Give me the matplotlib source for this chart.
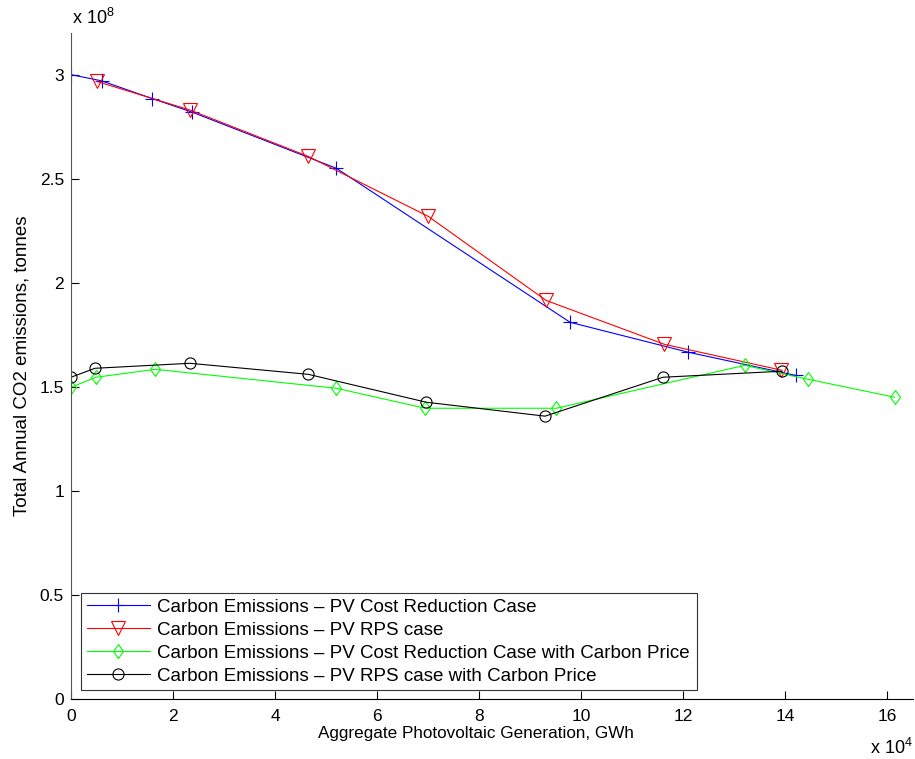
import numpy as np
import matplotlib
matplotlib.use('Agg')
import matplotlib.pyplot as plt

plt.rcParams['font.family'] = ['Liberation Sans', 'DejaVu Sans']
plt.rcParams['mathtext.fontset'] = 'custom'
plt.rcParams['mathtext.rm'] = 'Liberation Sans'

# PV generation (x 1e4 GWh) and CO2 emissions (x 1e8 tonnes)
cost_x = [0.0, 0.6, 1.59, 2.37, 5.2, 9.78, 12.1, 14.2]
cost_y = [3.0, 2.97, 2.885, 2.82, 2.55, 1.81, 1.666, 1.555]

rps_x = [0.51, 2.33, 4.65, 7.0, 9.31, 11.63, 13.92]
rps_y = [2.967, 2.83, 2.607, 2.319, 1.915, 1.704, 1.58]

cost_cp_x = [0.0, 0.49, 1.65, 5.2, 6.94, 9.51, 13.2, 14.45, 16.14]
cost_cp_y = [1.498, 1.546, 1.584, 1.493, 1.397, 1.397, 1.603, 1.536, 1.45]

rps_cp_x = [0.0, 0.47, 2.33, 4.65, 6.96, 9.29, 11.6, 13.94]
rps_cp_y = [1.546, 1.589, 1.613, 1.56, 1.426, 1.359, 1.546, 1.575]

labels = ['Carbon Emissions \u2013 PV Cost Reduction Case',
          'Carbon Emissions \u2013 PV RPS case',
          'Carbon Emissions \u2013 PV Cost Reduction Case with Carbon Price',
          'Carbon Emissions \u2013 PV RPS case with Carbon Price']

# matlab-style diamond, a bit narrower than it is tall
diamond = [(0, -1), (0.72, 0), (0, 1), (-0.72, 0), (0, -1)]

fig = plt.figure(figsize=(9.15, 7.59), dpi=100)
W, H = 915.0, 759.0
ax = fig.add_axes([71 / W, 1 - 699 / H, 842 / W, 666 / H])

lw = 0.8
ax.plot(cost_x, cost_y, color='blue', marker='+', ms=10, mew=lw, lw=lw, label=labels[0])
ax.plot(rps_x, rps_y, color='red', marker='v', ms=10, mew=lw, lw=lw, mfc='none', label=labels[1])
ax.plot(cost_cp_x, cost_cp_y, color='#00ff00', marker=diamond, ms=10, mew=lw, lw=lw, mfc='none', label=labels[2])
ax.plot(rps_cp_x, rps_cp_y, color='black', marker='o', ms=8, mew=lw, lw=lw, mfc='none', label=labels[3])

ax.set_xlim(0, 16.5)
ax.set_ylim(0, 3.2)
ax.set_xticks(np.arange(0, 17, 2))
ax.set_yticks([0, 0.5, 1, 1.5, 2, 2.5, 3])
ax.set_yticklabels(['0', '0.5', '1', '1.5', '2', '2.5', '3'])
ax.tick_params(direction='in', length=6, labelsize=12.5, width=0.8)
ax.tick_params(axis='x', pad=7)
ax.tick_params(axis='y', pad=5)
ax.spines['top'].set_visible(False)
ax.spines['right'].set_visible(False)
ax.spines['left'].set_color('#555555')
ax.spines['bottom'].set_color('black')

ax.set_xlabel('Aggregate Photovoltaic Generation, GWh', fontsize=12.3)
ax.xaxis.set_label_coords((476 - 71) / 842.0, -0.041)
ax.set_ylabel('Total Annual CO2 emissions, tonnes', fontsize=13.5)
ax.yaxis.set_label_coords(-0.048, 0.5)

fig.text(72 / W, 1 - 24 / H, r'x 10$^{8}$', fontsize=13, ha='left', va='baseline')
fig.text(913 / W, 1 - 754 / H, r'x 10$^{4}$', fontsize=13, ha='right', va='baseline')

leg = ax.legend(loc='lower left', bbox_to_anchor=(0.012, 0.0135, 0.731, 0.146),
                mode='expand', fontsize=13.5, frameon=True, fancybox=False,
                borderaxespad=0, handlelength=3.4, labelspacing=0.31,
                borderpad=0.29, handletextpad=0.37)
leg.get_frame().set_edgecolor('black')
leg.get_frame().set_linewidth(0.8)

fig.savefig('out.png', dpi=100)
